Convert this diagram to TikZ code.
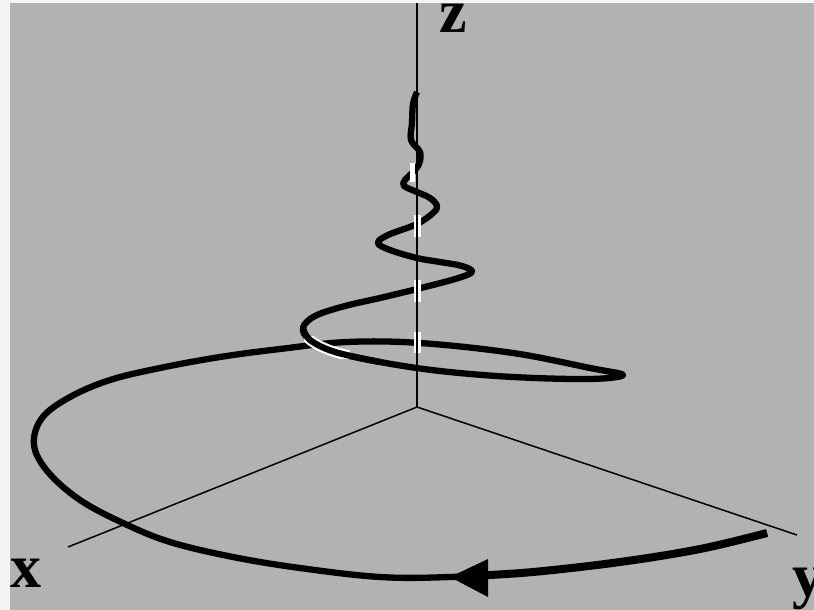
\documentclass[tikz,border=0pt]{standalone}
\usepackage{fontspec}
\setmainfont{Liberation Serif}
\usetikzlibrary{arrows.meta,positioning,calc}
\definecolor{panel}{RGB}{178,178,178}
\definecolor{rim}{RGB}{244,244,244}

\begin{document}
\begin{tikzpicture}[x=1pt,y=-1pt,
  axis/.style={line width=1.5pt,black},
  spiral/.style={line width=6.3pt,line cap=butt,line join=round},
  lbl/.style={font=\bfseries\fontsize{62}{62}\selectfont,inner sep=0pt,anchor=base west}]
  \useasboundingbox (0,0) rectangle (814,610);
  \fill[rim] (0,0) rectangle (814,610);
  \fill[panel] (10,3) rectangle (814,610);
  \coordinate (o) at (417,407);
  \coordinate (xe) at (68,547);
  \coordinate (ye) at (797,535);
  \coordinate (ze) at (417,3);
  \draw[axis] (o) -- (xe);
  \draw[axis] (o) -- (ye);
  % the spiral, from the y end inwards and up
  \draw[spiral] plot[smooth,tension=0.6] coordinates {
    (767,533) (700,549) (620,562) (533,572) (450,577) (380,577) (300,568)
    (233,557) (170,542) (123,523) (80,500) (48,472) (34,445) (42,418)
    (70,397) (110,380) (160,368) (220,357) (280,349) (347,342) (420,343)
    (513,353) (590,368) (623,375) (590,379) (513,377) (440,371) (380,362)
    (335,352) (310,340) (303,328) (315,316) (345,306) (380,298) (417,289)
    (455,279) (472,272) (462,266) (440,262) (417,258) (390,250) (378,243)
    (388,235) (417,224) (433,213) (437,206) (430,198) (417,192) (404,186)
    (405,180) (412,173) (419,164) (420,152) (411,140) (412,123) (413,104)
    (417,92)};
  \draw[spiral,line width=8pt] plot[smooth,tension=0.6] coordinates {
    (767,533) (700,549) (620,562) (533,572) (470,576)};
  \fill (450,577) -- (488,559) -- (488,597) -- cycle;
  % front strand over the back one
  \begin{scope}
    \clip (304,336) rectangle (350,358);
    \draw[spiral,white,line width=10.5pt] plot[smooth,tension=0.6] coordinates {
      (303,328) (310,340) (335,352) (380,362)};
  \end{scope}
  \draw[spiral] plot[smooth,tension=0.6] coordinates {
    (303,328) (310,340) (335,352) (380,362)};
  % where the spiral runs behind the z axis
  \fill[white] (414,332) rectangle (421,353);
  \fill[white] (414,280) rectangle (421,302);
  \fill[white] (414,215) rectangle (421,237);
  \fill[white] (410,163) rectangle (415,182);
  \draw[line width=2.5pt] (o) -- (ze);
  \node[lbl] (xl) at (10,587) {x};
  \node[lbl] (yl) at (792,596) {y};
  \node[lbl] (zl) at (439,33) {z};
\end{tikzpicture}
\end{document}
